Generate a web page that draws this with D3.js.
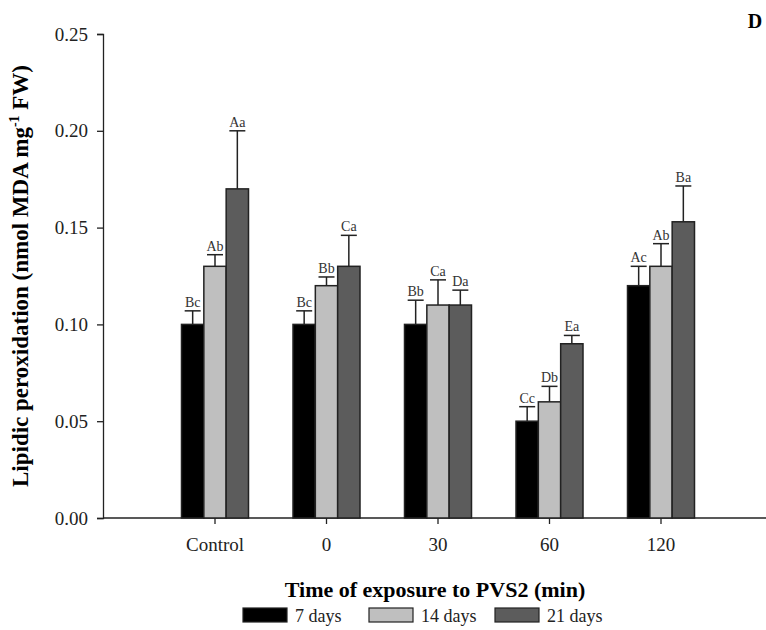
<!DOCTYPE html>
<html>
<head>
<meta charset="utf-8">
<script src="https://cdn.jsdelivr.net/npm/d3@7"></script>
<style>
  body { margin: 0; background: #fff; }
</style>
</head>
<body>
<script>
var categories = ['Control', '0', '30', '60', '120'],
    series = ['7 days', '14 days', '21 days'],
    colors = ['#000000', '#bfbfbf', '#5c5c5c'],
    means = [
        [0.10, 0.13, 0.17],
        [0.10, 0.12, 0.13],
        [0.10, 0.11, 0.11],
        [0.05, 0.06, 0.09],
        [0.12, 0.13, 0.153]
    ],
    errors = [
        [0.007, 0.006, 0.030],
        [0.007, 0.0045, 0.016],
        [0.0125, 0.013, 0.0077],
        [0.0075, 0.008, 0.0043],
        [0.010, 0.0117, 0.0185]
    ],
    letters = [
        ['Bc', 'Ab', 'Aa'],
        ['Bc', 'Bb', 'Ca'],
        ['Bb', 'Ca', 'Da'],
        ['Cc', 'Db', 'Ea'],
        ['Ac', 'Ab', 'Ba']
    ],
    yTicks = [0, 0.05, 0.10, 0.15, 0.20, 0.25];

(function () {
    var width = 766,
        height = 630,
        left = 103,
        bottom = 518,
        top = 34,
        serif = "'Times New Roman', Times, 'Liberation Serif', 'DejaVu Serif', serif",
        svg, x, xs, y, groups;

    svg = d3.select('body').append('svg')
        .attr('width', width)
        .attr('height', height)
        .style('font-family', serif);

    x = d3.scaleBand().domain(categories).range([159.25, 716.75]).padding(0);
    xs = d3.scaleBand().domain(series).range([0, 67]).padding(0);
    y = d3.scaleLinear().domain([0, 0.25]).range([bottom, top]);

    // y axis
    var yAxis = svg.append('g')
        .attr('transform', 'translate(' + left + ',0)')
        .call(d3.axisLeft(y).tickValues(yTicks).tickSize(6).tickPadding(9)
            .tickFormat(d3.format('.2f')));
    yAxis.selectAll('text').style('font-family', serif).style('font-size', '19px').attr('fill', '#222');
    yAxis.selectAll('line, .domain').attr('stroke', '#222').attr('stroke-width', 1.3);

    // x axis
    var xAxis = svg.append('g')
        .attr('transform', 'translate(0,' + bottom + ')')
        .call(d3.axisBottom(x).tickSize(6).tickPadding(14).tickSizeOuter(0));
    xAxis.select('.domain').attr('d', 'M' + left + ',0H' + width);
    xAxis.selectAll('line, .domain').attr('stroke', '#222').attr('stroke-width', 1.3);
    xAxis.selectAll('text').style('font-family', serif).style('font-size', '19px').attr('fill', '#222');

    groups = svg.selectAll('g.group').data(categories).enter().append('g')
        .attr('class', 'group')
        .attr('transform', function (d) {
            return 'translate(' + (x(d) + x.bandwidth() / 2 - 33.5) + ',0)';
        });

    groups.each(function (cat, ci) {
        var g = d3.select(this),
            rows = series.map(function (s, si) {
                return { s: s, si: si, v: means[ci][si], e: errors[ci][si], l: letters[ci][si] };
            });

        // error bars (upper only)
        g.selectAll('line.err').data(rows).enter().append('line')
            .attr('x1', function (d) { return xs(d.s) + xs.bandwidth() / 2; })
            .attr('x2', function (d) { return xs(d.s) + xs.bandwidth() / 2; })
            .attr('y1', function (d) { return y(d.v); })
            .attr('y2', function (d) { return y(d.v + d.e); })
            .attr('stroke', '#222').attr('stroke-width', 1.5);
        g.selectAll('line.cap').data(rows).enter().append('line')
            .attr('x1', function (d) { return xs(d.s) + xs.bandwidth() / 2 - 8; })
            .attr('x2', function (d) { return xs(d.s) + xs.bandwidth() / 2 + 8; })
            .attr('y1', function (d) { return y(d.v + d.e); })
            .attr('y2', function (d) { return y(d.v + d.e); })
            .attr('stroke', '#222').attr('stroke-width', 1.5);

        g.selectAll('rect').data(rows).enter().append('rect')
            .attr('x', function (d) { return xs(d.s); })
            .attr('y', function (d) { return y(d.v); })
            .attr('width', xs.bandwidth())
            .attr('height', function (d) { return y(0) - y(d.v); })
            .attr('fill', function (d) { return colors[d.si]; })
            .attr('stroke', '#222').attr('stroke-width', 1.5);

        g.selectAll('text').data(rows).enter().append('text')
            .attr('x', function (d) { return xs(d.s) + xs.bandwidth() / 2; })
            .attr('y', function (d) { return y(d.v + d.e) - 4; })
            .attr('text-anchor', 'middle')
            .style('font-size', '14px').attr('fill', '#333')
            .text(function (d) { return d.l; });
    });

    // y title
    var yt = svg.append('text')
        .attr('transform', 'translate(28,276) rotate(-90)')
        .attr('text-anchor', 'middle')
        .style('font-size', '23px').style('font-weight', 'bold');
    yt.append('tspan').text('Lipidic peroxidation (nmol MDA mg');
    yt.append('tspan').attr('dy', -9).style('font-size', '14px').text('-1');
    yt.append('tspan').attr('dy', 9).text(' FW)');

    // x title
    svg.append('text')
        .attr('x', 435).attr('y', 597)
        .attr('text-anchor', 'middle')
        .style('font-size', '22px').style('font-weight', 'bold')
        .text('Time of exposure to PVS2 (min)');

    // panel letter
    svg.append('text')
        .attr('x', 755).attr('y', 28)
        .attr('text-anchor', 'middle')
        .style('font-size', '20px').style('font-weight', 'bold')
        .text('D');

    // legend
    var leg = svg.selectAll('g.leg').data(series).enter().append('g')
        .attr('class', 'leg')
        .attr('transform', function (d, i) { return 'translate(' + (243 + i * 126) + ',608)'; });
    leg.append('rect')
        .attr('width', 44).attr('height', 14)
        .attr('fill', function (d, i) { return colors[i]; })
        .attr('stroke', '#222').attr('stroke-width', 1.2);
    leg.append('text')
        .attr('x', 52).attr('y', 14)
        .style('font-size', '18px').attr('fill', '#222')
        .text(function (d) { return d; });
}());
</script>
</body>
</html>
